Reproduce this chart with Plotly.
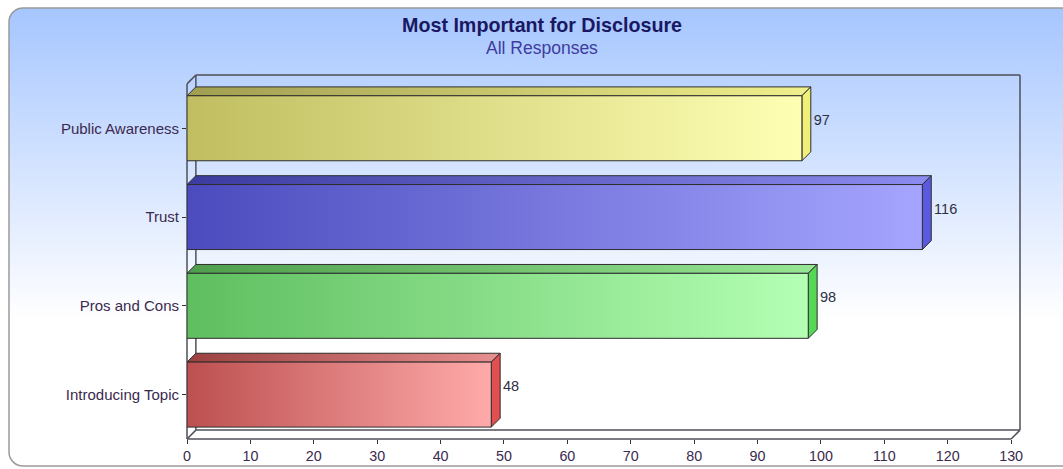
import base64
import plotly.graph_objects as go

# Survey results
categories = ["Introducing Topic", "Pros and Cons", "Trust", "Public Awareness"]
values = [48, 98, 116, 97]
x_ticks = list(range(0, 131, 10))

# Face colours per bar: front gradient (left -> right), top gradient, side colour
front_left = ["#bd5050", "#5fbe5f", "#4b4bbe", "#c0be60"]
front_right = ["#ffaaaa", "#b4ffb4", "#a5a5ff", "#ffffb4"]
top_left = ["#9c4040", "#4e9e4e", "#3c3ca0", "#a09e50"]
top_right = ["#e89090", "#96e696", "#8c8cf0", "#f0f08c"]
side_color = ["#e05050", "#55d855", "#5a5ae0", "#f0f078"]

W, H = 1063, 469
L, R, T, B = 187, 43, 75, 30
plot_w, plot_h = W - L - R, H - T - B

XMAX = 130
DX = 1.4      # depth offset along x (value units)
DY = 0.1      # depth offset along y (category units)
HALF = 0.366  # half bar thickness

x_range = [0, XMAX + DX]
y_range = [-0.5, 3.5 + DY]

OUTLINE = "#2e2e2e"
FONT = "Liberation Sans, Arial, sans-serif"

fig = go.Figure()

for i, (cat, v) in enumerate(zip(categories, values)):
    y0, y1 = i - HALF, i + HALF
    # top face
    fig.add_trace(go.Scatter(
        x=[0, v, v + DX, DX, 0], y=[y1, y1, y1 + DY, y1 + DY, y1],
        mode="lines", fill="toself", line=dict(color=OUTLINE, width=1),
        fillgradient=dict(type="horizontal",
                          colorscale=[[0, top_left[i]], [1, top_right[i]]]),
        hoverinfo="skip", showlegend=False))
    # side face
    fig.add_trace(go.Scatter(
        x=[v, v + DX, v + DX, v, v], y=[y0, y0 + DY, y1 + DY, y1, y0],
        mode="lines", fill="toself", line=dict(color=OUTLINE, width=1),
        fillcolor=side_color[i], hoverinfo="skip", showlegend=False))
    # front face
    fig.add_trace(go.Scatter(
        x=[0, v, v, 0, 0], y=[y0, y0, y1, y1, y0],
        mode="lines", fill="toself", line=dict(color=OUTLINE, width=1),
        fillgradient=dict(type="horizontal",
                          colorscale=[[0, front_left[i]], [1, front_right[i]]]),
        hoverinfo="skip", showlegend=False))

# value labels
fig.add_trace(go.Scatter(
    x=[v + DX + 0.45 for v in values], y=[i + 0.08 for i in range(len(values))],
    mode="text", text=[str(v) for v in values], textposition="middle right",
    textfont=dict(family=FONT, size=14.5, color="#2f2f44"),
    hoverinfo="skip", showlegend=False, cliponaxis=False))


def fx(x):
    return x / x_range[1]


def fy(y):
    return (y - y_range[0]) / (y_range[1] - y_range[0])


# 3D frame: back wall, left wall and floor edges
segments = [
    ((0, -0.5), (0, 3.5)),
    ((0, 3.5), (DX, 3.5 + DY)),
    ((DX, 3.5 + DY), (XMAX + DX, 3.5 + DY)),
    ((XMAX + DX, 3.5 + DY), (XMAX + DX, -0.5 + DY)),
    ((DX, -0.5 + DY), (XMAX + DX, -0.5 + DY)),
    ((DX, -0.5 + DY), (DX, 3.5 + DY)),
    ((0, -0.5), (XMAX, -0.5)),
    ((0, -0.5), (DX, -0.5 + DY)),
    ((XMAX, -0.5), (XMAX + DX, -0.5 + DY)),
]
shapes = []
for (xa, ya), (xb, yb) in segments:
    shapes.append(dict(type="line", xref="x domain", yref="y domain",
                       x0=fx(xa), y0=fy(ya), x1=fx(xb), y1=fy(yb),
                       line=dict(color="#4f4f58", width=1.5), layer="below"))

# rounded panel with vertical gradient behind the chart
panel_w, panel_h = 1090, 460
svg = (
    f'<svg xmlns="http://www.w3.org/2000/svg" width="{panel_w}" height="{panel_h}">'
    '<defs><linearGradient id="g" x1="0" y1="0" x2="0" y2="1">'
    '<stop offset="0" stop-color="#a6c6ff"/>'
    '<stop offset="0.68" stop-color="#ffffff"/>'
    '<stop offset="1" stop-color="#ffffff"/>'
    '</linearGradient></defs>'
    f'<rect x="1" y="1" width="{panel_w - 2}" height="{panel_h - 2}" rx="14" ry="14" '
    'fill="url(#g)" stroke="#9a9a9a" stroke-width="1.5"/></svg>'
)
src = "data:image/svg+xml;base64," + base64.b64encode(svg.encode()).decode()
panel_left, panel_top = 8, 7
images = [dict(
    source=src, xref="paper", yref="paper",
    x=(panel_left - L) / plot_w, y=(H - B - panel_top) / plot_h,
    sizex=panel_w / plot_w, sizey=panel_h / plot_h,
    xanchor="left", yanchor="top", sizing="stretch", layer="below")]

title_cx = 542
annotations = [
    dict(text="<b>Most Important for Disclosure</b>", xref="paper", yref="paper",
         x=(title_cx - L) / plot_w, y=(H - B - 25) / plot_h,
         xanchor="center", yanchor="middle", showarrow=False,
         font=dict(family=FONT, size=19.7, color="#1a1862")),
    dict(text="All Responses", xref="paper", yref="paper",
         x=(title_cx - L) / plot_w, y=(H - B - 47.5) / plot_h,
         xanchor="center", yanchor="middle", showarrow=False,
         font=dict(family=FONT, size=17.5, color="#3f3c9e")),
]

tick_font = dict(family=FONT, size=14.3, color="#3a2a4e")
cat_font = dict(family=FONT, size=15, color="#3a2a4e")

fig.update_layout(
    width=W, height=H,
    margin=dict(l=L, r=R, t=T, b=B, pad=0, autoexpand=False),
    paper_bgcolor="white",
    plot_bgcolor="rgba(0,0,0,0)",
    hovermode=False,
    shapes=shapes,
    images=images,
    annotations=annotations,
    xaxis=dict(range=x_range, tickvals=x_ticks, ticktext=[str(t) for t in x_ticks],
               showgrid=False, zeroline=False, showline=False, automargin=False,
               ticks="outside", ticklen=4, tickcolor="#333", tickwidth=1,
               tickfont=tick_font, fixedrange=True),
    yaxis=dict(range=y_range, tickvals=list(range(len(categories))), ticktext=categories,
               showgrid=False, zeroline=False, showline=False, automargin=False,
               ticks="outside", ticklen=4, tickcolor="#333", tickwidth=1,
               tickfont=cat_font, fixedrange=True),
)

fig.write_html("out.html", config={"displayModeBar": False})
